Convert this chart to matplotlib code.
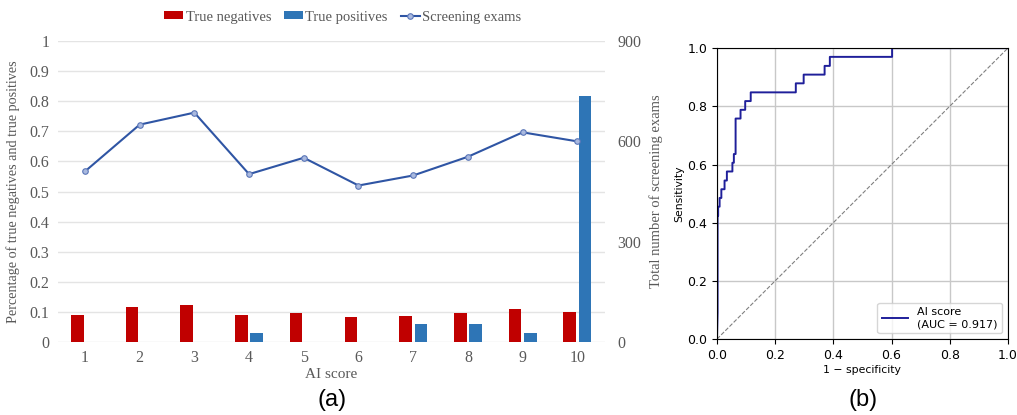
import matplotlib
matplotlib.use("Agg")
import matplotlib.pyplot as plt
import numpy as np

# ---- data ----
ai_scores = [1, 2, 3, 4, 5, 6, 7, 8, 9, 10]
true_negatives = [0.091, 0.115, 0.122, 0.088, 0.097, 0.083, 0.087, 0.097, 0.110, 0.101]
true_positives = [0.0, 0.0, 0.0, 0.0303, 0.0, 0.0, 0.0606, 0.0606, 0.0303, 0.818]
screening_exams = [510, 650, 686, 502, 551, 468, 498, 554, 627, 600]

roc_fpr = [0.0, 0.002, 0.002, 0.004, 0.004, 0.009, 0.009, 0.015, 0.015, 0.026, 0.026,
           0.034, 0.034, 0.053, 0.053, 0.058, 0.058, 0.064, 0.064, 0.081, 0.081,
           0.097, 0.097, 0.116, 0.116, 0.271, 0.271, 0.298, 0.298, 0.370, 0.370,
           0.388, 0.388, 0.602, 0.602, 1.0]
roc_tpr = [0.0, 0.09, 0.424, 0.424, 0.455, 0.455, 0.485, 0.485, 0.515, 0.515, 0.545,
           0.545, 0.576, 0.576, 0.606, 0.606, 0.636, 0.636, 0.758, 0.758, 0.788,
           0.788, 0.818, 0.818, 0.848, 0.848, 0.879, 0.879, 0.909, 0.909, 0.939,
           0.939, 0.970, 0.970, 1.0, 1.0]
auc_value = 0.917

fig = plt.figure(figsize=(10.17, 4.15), dpi=100)

# ---- panel (a) ----
serif = "Liberation Serif"
gray = "#595959"
ax = fig.add_axes([0.0566, 0.176, 0.538, 0.725])
x = np.array(ai_scores)
w = 0.23
ax.bar(x - 0.14, true_negatives, width=w, color="#C00000", label="True negatives", zorder=3)
ax.bar(x + 0.14, true_positives, width=w, color="#2E75B6", label="True positives", zorder=3)
ax.set_ylim(0, 1)
ax.set_xlim(0.5, 10.5)
ax.set_yticks(np.arange(0, 1.01, 0.1))
ax.set_yticklabels(["0"] + [f"{v:.1f}" for v in np.arange(0.1, 0.95, 0.1)] + ["1"])
ax.set_xticks(ai_scores)
ax.grid(axis="y", color="#e4e4e4", linewidth=1, zorder=0)
for s in ax.spines.values():
    s.set_visible(False)
ax.tick_params(length=0, labelsize=11.5, labelcolor=gray, pad=6)
for lab in ax.get_xticklabels() + ax.get_yticklabels():
    lab.set_fontfamily(serif)
ax.set_xlabel("AI score", fontsize=11, color=gray, family=serif, labelpad=1)
ax.set_ylabel("Percentage of true negatives and true positives", fontsize=10.2,
              color=gray, family=serif, labelpad=7)

ax2 = ax.twinx()
ax2.plot(x, screening_exams, color="#2F55A4", linewidth=1.5, marker="o", markersize=4,
         markerfacecolor="#A9B9DF", markeredgecolor="#5A76B8", markeredgewidth=0.8,
         label="Screening exams", zorder=4)
ax2.set_ylim(0, 900)
ax2.set_yticks([0, 300, 600, 900])
for s in ax2.spines.values():
    s.set_visible(False)
ax2.tick_params(length=0, labelsize=11.5, labelcolor=gray, pad=9)
for lab in ax2.get_yticklabels():
    lab.set_fontfamily(serif)
ax2.set_ylabel("Total number of screening exams", fontsize=10.5, color=gray,
               family=serif, labelpad=6)

h1, l1 = ax.get_legend_handles_labels()
h2, l2 = ax2.get_legend_handles_labels()
fig.legend(h1 + h2, l1 + l2, loc="center", bbox_to_anchor=(0.337, 0.959), ncol=3,
           frameon=False, prop={"family": serif, "size": 10.5}, labelcolor=gray,
           handlelength=1.3, handleheight=0.45, handletextpad=0.15, columnspacing=0.9)

fig.text(0.327, 0.035, "(a)", fontsize=17, family="Liberation Sans", ha="center", va="center")

# ---- panel (b) ----
axr = fig.add_axes([0.705, 0.183, 0.286, 0.701])
axr.plot(roc_fpr, roc_tpr, color="#1F1F9A", linewidth=1.4,
         label=f"AI score\n(AUC = {auc_value:.3f})")
axr.plot([0, 1], [0, 1], linestyle="--", color="gray", linewidth=0.8)
axr.set_xlim(0, 1)
axr.set_ylim(0, 1)
axr.set_xticks(np.arange(0, 1.01, 0.2))
axr.set_yticks(np.arange(0, 1.01, 0.2))
axr.grid(True, color="#c8c8c8", linewidth=1)
axr.tick_params(labelsize=9)
axr.set_xlabel("1 \u2212 specificity", fontsize=7.8, labelpad=2)
axr.set_ylabel("Sensitivity", fontsize=7.8, labelpad=2)
axr.legend(loc="lower right", fontsize=8, handlelength=2.4)

fig.text(0.849, 0.035, "(b)", fontsize=17, family="Liberation Sans", ha="center", va="center")

fig.savefig("out.png", dpi=100)
